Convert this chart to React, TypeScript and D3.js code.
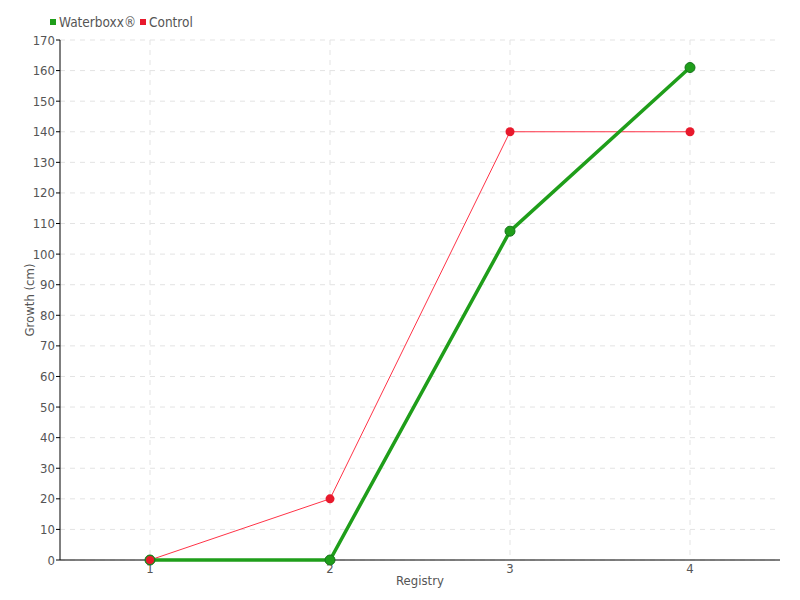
import React from "react";
import * as d3 from "d3";

const categories = ["1", "2", "3", "4"];
const waterboxx = [0, 0, 107.5, 161];
const control = [0, 20, 140, 140];
const yTicks = d3.range(0, 171, 10);

const W = 800, H = 600;
const M = { left: 60, right: 780, top: 40, bottom: 560 };
const FONT = "'DejaVu Sans Condensed', 'Liberation Sans Narrow', sans-serif";

export default function App() {
  const x = d3.scalePoint<string>().domain(categories).range([M.left, M.right]).padding(0.5);
  const y = d3.scaleLinear().domain([0, 170]).range([M.bottom, M.top]);
  const line = d3.line<number>().x((_, i) => x(categories[i])!).y((d) => y(d));
  return (
    <div style={{ position: "absolute", left: 0, top: 0 }}>
      <svg width={W} height={H} style={{ display: "block", fontFamily: FONT }}>
        <rect width={W} height={H} fill="#fff" />
        {yTicks.map((t) => (
          <line key={"h" + t} x1={M.left} x2={M.right} y1={y(t)} y2={y(t)} stroke="#e3e3e3" strokeDasharray="5,5" />
        ))}
        {categories.map((c) => (
          <line key={"v" + c} x1={x(c)} x2={x(c)} y1={M.top} y2={M.bottom} stroke="#e3e3e3" strokeDasharray="5,5" />
        ))}
        <line x1={M.left} x2={M.left} y1={M.top} y2={M.bottom} stroke="#000" />
        <line x1={M.left} x2={M.right} y1={M.bottom} y2={M.bottom} stroke="#000" />
        {yTicks.map((t) => (
          <g key={"t" + t}>
            <line x1={M.left - 4} x2={M.left} y1={y(t)} y2={y(t)} stroke="#000" />
            <text x={M.left - 5} y={y(t)} dy="0.35em" textAnchor="end" fontSize={13} fill="#555">{t}</text>
          </g>
        ))}
        {categories.map((c) => (
          <text key={"xl" + c} x={x(c)} y={M.bottom + 13} textAnchor="middle" fontSize={13} fill="#555">{c}</text>
        ))}
        <text x={420} y={585} textAnchor="middle" fontSize={13} fill="#555">Registry</text>
        <text transform={`translate(34,${300}) rotate(-90)`} textAnchor="middle" fontSize={13} fill="#555">Growth (cm)</text>

        <path d={line(control)!} fill="none" stroke="#ff3347" strokeWidth={1} />
        <path d={line(waterboxx)!} fill="none" stroke="#1f9e1a" strokeWidth={3.5} />
        {control.map((v, i) => (
          <circle key={"c" + i} cx={x(categories[i])} cy={y(v)} r={4.5} fill="#e8192c" />
        ))}
        {waterboxx.map((v, i) => (
          <circle key={"w" + i} cx={x(categories[i])} cy={y(v)} r={5} fill="#1f9e1a" stroke="#15751a" strokeWidth={1} />
        ))}
        <circle cx={x(categories[0])} cy={y(control[0])} r={4} fill="#e8192c" />

        <rect x={50} y={19} width={6} height={6} fill="#1f9e1a" />
        <text x={59} y={22} dy="0.35em" fontSize={13.5} fill="#555">Waterboxx®</text>
        <rect x={140} y={19} width={6} height={6} fill="#e8192c" />
        <text x={149} y={22} dy="0.35em" fontSize={13.5} fill="#555">Control</text>
      </svg>
    </div>
  );
}
